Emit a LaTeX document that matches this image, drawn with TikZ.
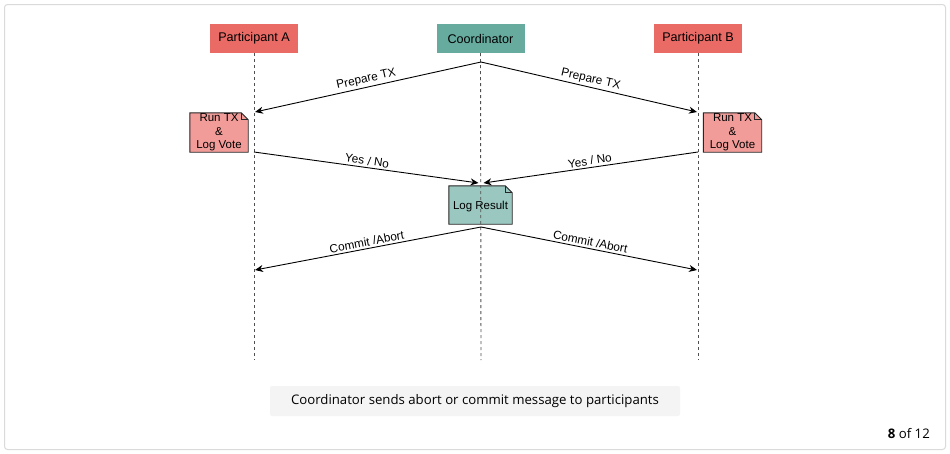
\documentclass[tikz,border=0pt]{standalone}
\usepackage{fontspec}
\setmainfont{Liberation Sans}
\newfontfamily\capfont{Open Sans}
\usetikzlibrary{arrows.meta,backgrounds}
\definecolor{partred}{HTML}{EA6B66}
\definecolor{coordgreen}{HTML}{67AB9F}
\definecolor{notered}{HTML}{F19C99}
\definecolor{notegreen}{HTML}{9AC7BF}
\definecolor{framegray}{HTML}{DADADA}
\definecolor{capgray}{HTML}{F4F4F4}
\definecolor{lifegray}{HTML}{505050}
\newcommand{\drawnote}[2]{%
  \begin{pgfonlayer}{background}
  \draw[noteline, fill=#2] (#1.north west) -- ([xshift=-7pt]#1.north east) -- ([yshift=-7pt]#1.north east) -- (#1.south east) -- (#1.south west) -- cycle;
  \draw[noteline] ([xshift=-7pt]#1.north east) -- ([xshift=-7pt,yshift=-7pt]#1.north east) -- ([yshift=-7pt]#1.north east);
  \end{pgfonlayer}}
\tikzset{
  actor/.style={minimum width=88pt, minimum height=29pt, inner sep=0pt, font=\fontsize{12.6}{14}\selectfont},
  notebox/.style={minimum width=58pt, minimum height=39pt, inner sep=0pt, align=center, font=\fontsize{11.5}{13.6}\selectfont},
  noteline/.style={draw=black!85, line width=0.9pt},
  lifeline/.style={draw=lifegray, line width=0.9pt, dash pattern=on 3pt off 3pt},
  msg/.style={draw=black, line width=0.9pt, -{Stealth[length=8pt,width=7pt,inset=2.5pt]}},
  msglabel/.style={sloped, above=1pt, font=\fontsize{11.8}{13}\selectfont, inner sep=1pt}
}
\begin{document}
\begin{tikzpicture}[x=1pt,y=-1pt]
\useasboundingbox (0,0) rectangle (950,453);
\begin{pgfonlayer}{background}
\fill[white] (0,0) rectangle (950,453);
\draw[framegray, line width=1pt, rounded corners=3pt] (4.5,4.5) rectangle (945.5,449.5);
\end{pgfonlayer}

% actors
\node[actor, fill=partred] (pa) at (254,38.5) {Participant A};
\node[actor, fill=coordgreen] (co) at (480.5,38.5) {Coordinator};
\node[actor, fill=partred] (pb) at (698,38.5) {Participant B};

% lifeline ends
\coordinate (paend) at (254,360);
\coordinate (coend) at (481,360);
\coordinate (pbend) at (698,360);
\draw[lifeline] (pa.south) -- (paend);
\draw[lifeline] (co.south) -- (coend);
\draw[lifeline] (pb.south) -- (pbend);

% message points
\coordinate (c1) at (481,62);
\coordinate (a1) at (255,112);
\coordinate (b1) at (697,112);
\coordinate (a2) at (254,152);
\coordinate (b2) at (698,152);
\coordinate (c2l) at (478.5,183);
\coordinate (c2r) at (483.5,183);
\coordinate (c3) at (481,227);
\coordinate (a3) at (255,270);
\coordinate (b3) at (697,270);

% notes
\node[notebox] (na) at (219,132.5) {Run TX\\\&\\Log Vote};
\drawnote{na}{notered}
\node[notebox] (nb) at (732.5,132.5) {Run TX\\\&\\Log Vote};
\drawnote{nb}{notered}
\node[notebox, minimum width=63pt, minimum height=38pt, text depth=0pt] (nc) at (480.5,205) {Log Result};
\drawnote{nc}{notegreen}

% messages
\draw[msg] (c1) -- node[msglabel] {Prepare TX} (a1);
\draw[msg] (c1) -- node[msglabel] {Prepare TX} (b1);
\draw[msg] (a2) -- node[msglabel] {Yes / No} (c2l);
\draw[msg] (b2) -- node[msglabel] {Yes / No} (c2r);
\draw[msg] (c3) -- node[msglabel] {Commit /Abort} (a3);
\draw[msg] (c3) -- node[msglabel] {Commit /Abort} (b3);

% caption
\node[fill=capgray, rounded corners=2pt, minimum width=410pt, minimum height=30pt, inner sep=0pt, font=\capfont\fontsize{13.2}{15}\selectfont] (cap) at (475,401) {Coordinator sends abort or commit message to participants};
\node[anchor=east, inner sep=0pt, font=\capfont\fontsize{13.2}{15}\selectfont] (pg) at (930,433.5) {\textbf{8} of 12};
\end{tikzpicture}
\end{document}
